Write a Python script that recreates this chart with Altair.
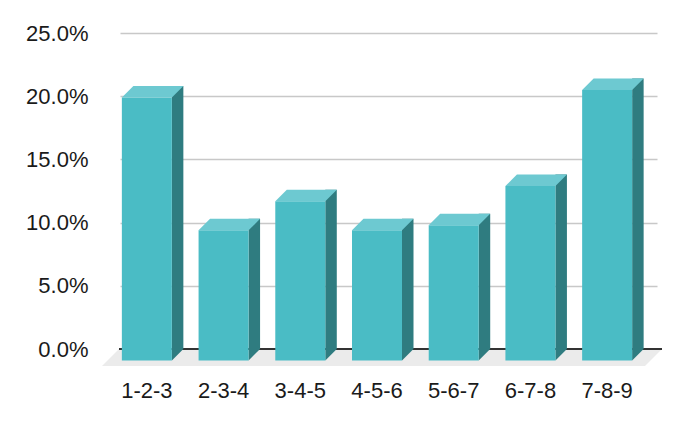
import altair as alt
import pandas as pd

categories = ["1-2-3", "2-3-4", "3-4-5", "4-5-6", "5-6-7", "6-7-8", "7-8-9"]
values = [0.208, 0.103, 0.126, 0.103, 0.107, 0.138, 0.214]
y_ticks = [0, 0.05, 0.10, 0.15, 0.20, 0.25]

df = pd.DataFrame({"cat": categories, "v": values})
one = pd.DataFrame({"k": [0]})

W = 543
H = 316
D = 11.5   # 3D depth in px
BW = 50    # bar width in px
FD = 17    # floor depth

FRONT = "#4ABCC5"
TOP = "#6DC9D1"
SIDE = "#2F7C80"
FLOOR = "#EBEBEB"
FONT = "Liberation Sans"
FS = 22

xs = alt.X("cat:N", sort=categories,
           scale=alt.Scale(range=[1, 538], paddingInner=0, paddingOuter=0),
           axis=alt.Axis(title=None, domain=False, ticks=False, grid=False,
                         labelAngle=0, labelFont=FONT, labelFontSize=FS,
                         labelColor="#1a1a1a", labelPadding=31, labelOffset=-D))
ys = alt.Y("v:Q", scale=alt.Scale(domain=[0, 0.25], nice=False),
           axis=alt.Axis(title=None, values=y_ticks, format=".1%", domain=False,
                         ticks=False, grid=True, gridColor="#C8C8C8", gridWidth=1.5,
                         labelFont=FONT, labelFontSize=FS, labelColor="#1a1a1a",
                         labelPadding=31))

floor = alt.Chart(one).mark_point(
    shape=f"M0,0 L{W},0 L{W-FD},{FD} L{-FD},{FD} Z", size=4, filled=True,
    color=FLOOR, opacity=1, strokeWidth=0
).encode(x=alt.value(0), y=alt.datum(0))

base_line = alt.Chart(one).mark_rule(color="#333333", strokeWidth=2).encode(
    y=alt.datum(0), x=alt.value(0), x2=alt.value(W))

side = alt.Chart(df).mark_bar(width=D, xOffset=BW / 2 - D / 2, color=SIDE).encode(
    x=xs, y=ys)

side_bottom = alt.Chart(df).mark_point(
    shape=f"M{BW/2-D},0 L{BW/2},0 L{BW/2-D},{D} Z", size=4, filled=True,
    color=SIDE, opacity=1, strokeWidth=0
).encode(x=xs, y=alt.datum(0))

front = alt.Chart(df).mark_bar(width=BW, xOffset=-D, yOffset=D, y2Offset=D,
                               color=FRONT).encode(x=xs, y=ys)

top = alt.Chart(df).mark_point(
    shape=f"M{-BW/2-D},{D} L{BW/2-D},{D} L{BW/2},0 L{-BW/2},0 Z", size=4,
    filled=True, color=TOP, opacity=1, strokeWidth=0
).encode(x=xs, y=ys)

chart = alt.layer(floor, base_line, side, side_bottom, front, top).properties(
    width=W, height=H,
    autosize=alt.AutoSizeParams(type="none"),
    padding={"left": 111, "top": 25, "right": 14, "bottom": 60},
).configure_view(stroke=None)

chart.save("out.html", embed_options={"renderer": "svg", "actions": False})
